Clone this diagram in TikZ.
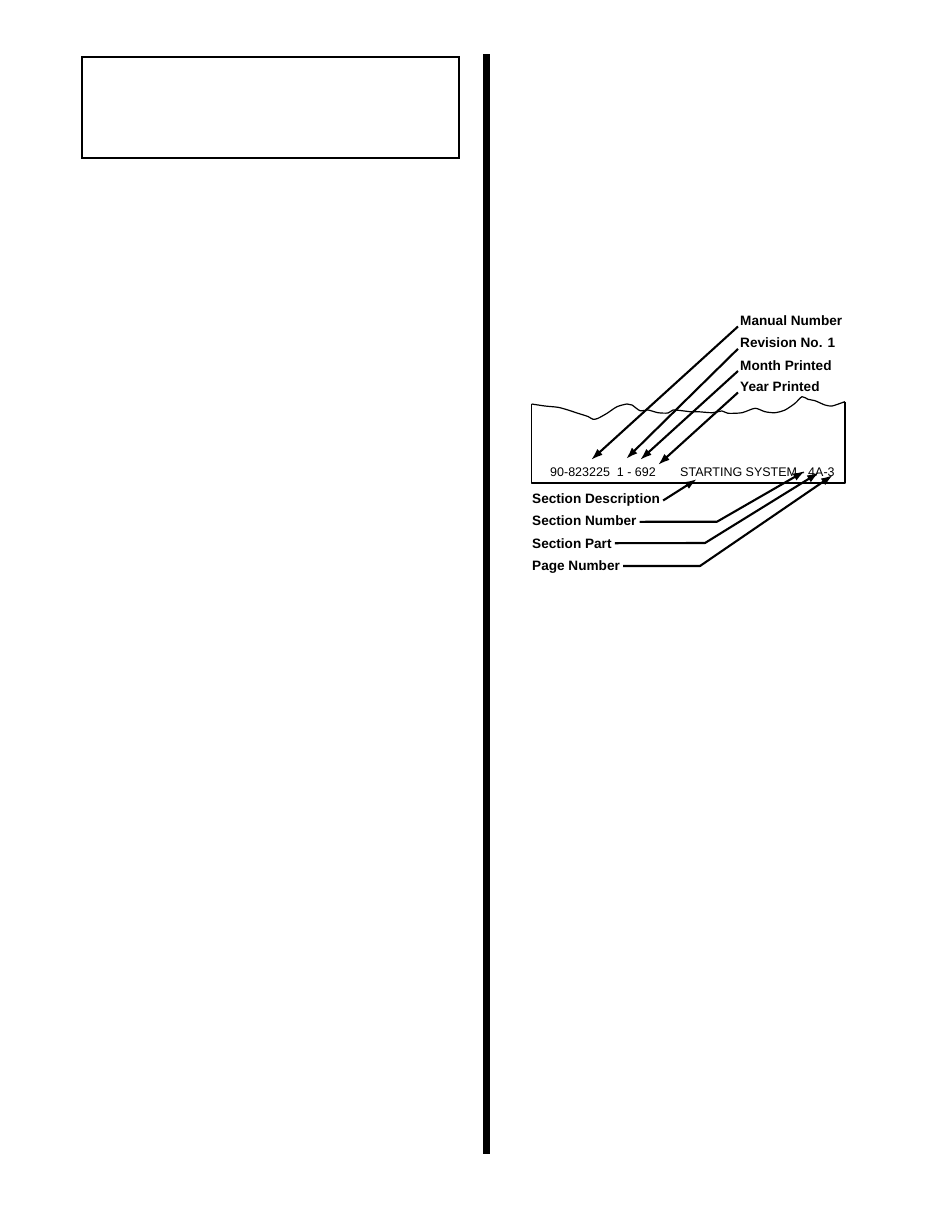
\documentclass[tikz,border=0pt]{standalone}
\usepackage{fontspec}
\setmainfont{Liberation Sans}
\usetikzlibrary{arrows.meta}
\tikzset{
  lbl/.style={inner sep=0pt, anchor=base west, font=\fontsize{13.6}{16}\selectfont\bfseries},
  striptxt/.style={inner sep=0pt, anchor=base west, font=\fontsize{12.5}{15}\selectfont},
  ptr/.style={line width=2.1pt, -{Latex[length=12pt,width=8pt]}},
  thinline/.style={line width=1.2pt, line join=round}
}
\begin{document}
\begin{tikzpicture}[x=1pt,y=-1pt]
\useasboundingbox (0,0) rectangle (935,1210);
% top-left empty box
\draw[line width=1.3pt] (82,57) rectangle (459,158);
% vertical column bar
\fill (483,54) rectangle (490,1154);
% paper strip
\draw[thinline] (531.7,404) -- (531.7,483) -- (845,483) -- (845,401.7);
\draw[thinline] plot[smooth, tension=0.45] coordinates {
 (531.7,404) (545,406) (558,407.3) (568,410) (578,413.3) (588,416.5) (593,419.3)
 (598,418.3) (607,413.3) (617,406.7) (627,404) (632,405) (640,410.7) (648,410)
 (658,412.7) (668,413) (673,410) (682,410.7) (690,411.7) (698,411.7) (712,412.7)
 (722,411) (728,413.3) (742,412.7) (755,408.3) (765,411.7) (775,412.7) (785,410)
 (795,403.3) (802,396.7) (808,399.3) (815,400.7) (825,405) (832,406) (842,402.7) (845,401.7)};
% strip text
\node[striptxt] (code) at (550,476.5) {90-823225\ \ 1 - 692};
\node[striptxt] (title) at (680,476) {STARTING SYSTEM - 4A-3};
% upper labels
\node[lbl] (man) at (740,325.5) {Manual Number};
\node[lbl] (rev) at (740,347.8) {Revision No. 1};
\node[lbl] (mon) at (740,370) {Month Printed};
\node[lbl] (yr)  at (740,391.5) {Year Printed};
% lower labels
\node[lbl] (sdesc) at (532,503.5) {Section Description};
\node[lbl] (snum)  at (532,525.8) {Section Number};
\node[lbl] (spart) at (532,548.2) {Section Part};
\node[lbl] (pnum)  at (532,570.5) {Page Number};
% target points
\coordinate (tMan) at (591,460);
\coordinate (tRev) at (626,459);
\coordinate (tMon) at (640,460);
\coordinate (tYr)  at (658,465);
\coordinate (tDesc) at (697,479);
\coordinate (bNum) at (717,521.7);
\coordinate (bPart) at (705,543);
\coordinate (bPage) at (700,566);
\coordinate (tNum) at (805,471);
\coordinate (tPart) at (819,472.5);
\coordinate (tPage) at (833,475);
% connectors
\draw[ptr] ([xshift=-2pt,yshift=-1pt]man.base west) -- (tMan);
\draw[ptr] ([xshift=-2pt,yshift=-1pt]rev.base west) -- (tRev);
\draw[ptr] ([xshift=-2pt,yshift=-1pt]mon.base west) -- (tMon);
\draw[ptr] ([xshift=-2pt,yshift=-1pt]yr.base west) -- (tYr);
\draw[ptr] ([xshift=3pt,yshift=3pt]sdesc.base east) -- (tDesc);
\draw[ptr, line join=round] ([xshift=3pt,yshift=4pt]snum.base east) -- (bNum) -- (tNum);
\draw[ptr, line join=round] ([xshift=3pt,yshift=5pt]spart.base east) -- (bPart) -- (tPart);
\draw[ptr, line join=round] ([xshift=3pt,yshift=4.5pt]pnum.base east) -- (bPage) -- (tPage);
\end{tikzpicture}
\end{document}
